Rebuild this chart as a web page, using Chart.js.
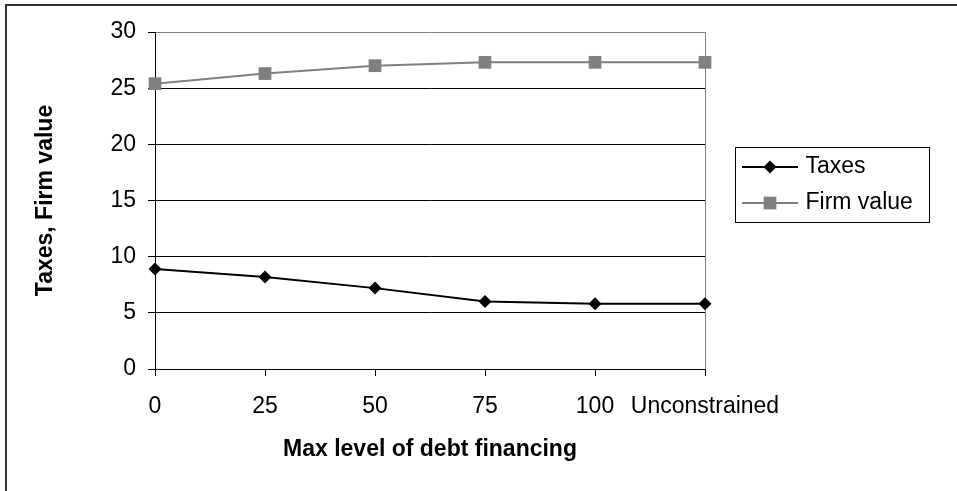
<!DOCTYPE html>
<html>
<head>
<meta charset="utf-8">
<script src="https://cdn.jsdelivr.net/npm/chart.js@4/dist/chart.umd.min.js"></script>
<style>
  html, body { margin: 0; padding: 0; background: #fff; }
  #wrap { width: 957px; height: 491px; }
</style>
</head>
<body>
<div id="wrap"><canvas id="c" width="957" height="491"></canvas></div>
<script>
// Chart data
const categories = ['0', '25', '50', '75', '100', 'Unconstrained'];
const taxes = [8.9, 8.2, 7.2, 6.0, 5.8, 5.8];
const firmValue = [25.4, 26.3, 27.0, 27.3, 27.3, 27.3];
const seriesNames = ['Taxes', 'Firm value'];
const yTitle = 'Taxes, Firm value';
const xTitle = 'Max level of debt financing';

const FONT = "'Liberation Sans', Arial, sans-serif";
Chart.defaults.font.family = FONT;
Chart.defaults.font.size = 23;
Chart.defaults.color = '#000';

const styles = [
  { color: '#000000', pointStyle: 'rectRot', radius: 6.5 },
  { color: '#808080', pointStyle: 'rect', radius: 9 }
];

// Legend swatch: a short line with the series marker in the middle
function legendSwatch(s) {
  const c = document.createElement('canvas');
  c.width = 56; c.height = 18;
  const g = c.getContext('2d');
  g.strokeStyle = s.color;
  g.lineWidth = 2;
  g.beginPath(); g.moveTo(0, 9); g.lineTo(56, 9); g.stroke();
  g.fillStyle = s.color;
  Chart.helpers.drawPoint(g, { pointStyle: s.pointStyle, radius: s.radius, rotation: 0, borderWidth: 0 }, 28, 9);
  return c;
}

// Outer frame and legend box placement
const framePlugin = {
  id: 'frame',
  afterLayout(chart) {
    const lg = chart.legend;
    if (!lg) return;
    const w = lg.width, h = lg.height;
    lg.left = 733; lg.right = lg.left + w;
    lg.top = 142.5; lg.bottom = lg.top + h;
  },
  beforeDraw(chart) {
    const ctx = chart.ctx;
    ctx.save();
    ctx.strokeStyle = '#333';
    ctx.lineWidth = 2;
    ctx.strokeRect(6, 5, 2000, 2000);
    ctx.restore();
  },
  afterDraw(chart) {
    const lg = chart.legend;
    const ctx = chart.ctx;
    ctx.save();
    ctx.strokeStyle = '#000';
    ctx.lineWidth = 1;
    ctx.strokeRect(lg.left + 2.5, lg.top + 5, 194, 75);
    ctx.restore();
  }
};

const seriesData = [taxes, firmValue];

new Chart(document.getElementById('c'), {
  type: 'line',
  data: {
    labels: categories,
    datasets: seriesData.map((d, i) => ({
      label: seriesNames[i],
      data: d,
      borderColor: styles[i].color,
      backgroundColor: styles[i].color,
      borderWidth: 2,
      tension: 0,
      pointStyle: styles[i].pointStyle,
      pointRadius: styles[i].radius,
      pointHoverRadius: styles[i].radius,
      pointBorderWidth: 0,
      pointBackgroundColor: styles[i].color
    }))
  },
  options: {
    responsive: false,
    animation: false,
    events: [],
    layout: { padding: { left: 0, top: 32, right: 72, bottom: 0 } },
    plugins: {
      tooltip: { enabled: false },
      legend: {
        position: 'right',
        align: 'start',
        maxWidth: 180,
        labels: {
          usePointStyle: true,
          pointStyleWidth: 48,
          padding: 13,
          color: '#000',
          font: { size: 23, family: FONT },
          generateLabels(chart) {
            return chart.data.datasets.map((ds, i) => ({
              text: ds.label,
              pointStyle: legendSwatch(styles[i]),
              fillStyle: styles[i].color,
              strokeStyle: styles[i].color,
              fontColor: '#000',
              lineWidth: 0,
              hidden: false,
              datasetIndex: i
            }));
          }
        }
      }
    },
    scales: {
      x: {
        type: 'category',
        offset: false,
        afterFit(scale) { scale.height = 122; },
        border: { display: true, color: '#000', width: 1 },
        grid: {
          drawOnChartArea: true,
          drawTicks: true,
          tickLength: 7,
          tickColor: '#000',
          color: (ctx) => ctx.index === categories.length - 1 ? '#808080' : 'rgba(0,0,0,0)'
        },
        ticks: {
          autoSkip: false,
          maxRotation: 0,
          minRotation: 0,
          padding: 17,
          color: '#000',
          font: { size: 23, family: FONT }
        },
        title: {
          display: true,
          text: xTitle,
          color: '#000',
          font: { size: 23, weight: 'bold', family: FONT },
          padding: { top: 0, bottom: 28 }
        }
      },
      y: {
        min: 0,
        max: 30,
        afterFit(scale) { scale.width = 155; },
        border: { display: true, color: '#000', width: 1 },
        grid: {
          drawTicks: true,
          tickLength: 7,
          tickColor: '#000',
          color: (ctx) => ctx.tick && ctx.tick.value === 30 ? '#808080' : '#000'
        },
        ticks: {
          stepSize: 5,
          padding: 12,
          color: '#000',
          font: { size: 23, family: FONT }
        },
        title: {
          display: true,
          text: yTitle,
          color: '#000',
          font: { size: 23, weight: 'bold', family: FONT },
          padding: { top: 32, bottom: 0 }
        }
      }
    }
  },
  plugins: [framePlugin]
});
</script>
</body>
</html>
